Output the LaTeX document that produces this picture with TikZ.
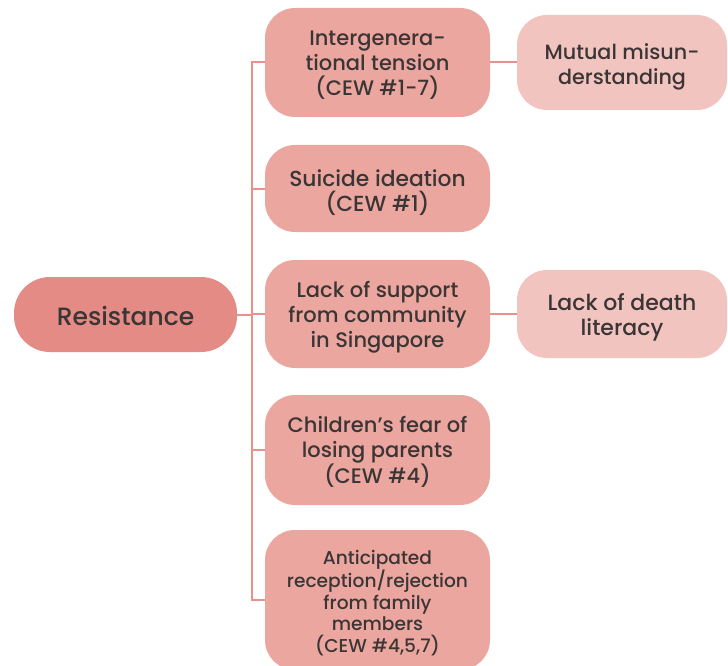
\documentclass[tikz,border=0pt]{standalone}
\usepackage{fontspec}
\setmainfont{Poppins Medium}
\definecolor{rootfill}{HTML}{E38B84}
\definecolor{midfill}{HTML}{EBA79F}
\definecolor{leaffill}{HTML}{F2C4BF}
\definecolor{linkcol}{HTML}{E8928B}
\definecolor{ink}{HTML}{3B3535}
\tikzset{
  pill/.style={rectangle, rounded corners=30pt, inner sep=0pt},
  rootbox/.style={pill, fill=rootfill, rounded corners=36pt, minimum width=223pt, minimum height=75pt},
  midbox/.style={pill, fill=midfill, minimum width=225pt},
  leafbox/.style={pill, fill=leaffill, minimum width=210pt},
  % labels sit a little below the geometric centre of their box
  txt/.style={align=center, inner sep=0pt, text=ink, font=\fontsize{21}{25}\selectfont},
  link/.style={draw=linkcol, line width=2pt},
}
\begin{document}
\begin{tikzpicture}[x=1pt,y=-1pt]
\useasboundingbox (0,0) rectangle (728,666);

% boxes
\node[rootbox] (root) at (125.5,314.5) {};
\node[midbox, minimum height=109pt] (c1) at (377.5,62.5) {};
\node[midbox, minimum height=87pt]  (c2) at (377.5,188.5) {};
\node[midbox, minimum height=108pt] (c3) at (377.5,314) {};
\node[midbox, minimum height=110pt] (c4) at (377.5,450) {};
\node[midbox, minimum height=140pt] (c5) at (377.5,600) {};
\node[leafbox, minimum height=95pt] (r1) at (622,62.5) {};
\node[leafbox, minimum height=88pt] (r2) at (622,314) {};

% box texts
\node[txt, font=\fontsize{25}{30}\selectfont] (roott) at ([yshift=-1pt]root.center) {Resistance};
\node[txt] (c1t) at ([yshift=-3pt]c1.center) {Intergenera-\\tional tension\\(CEW \#1-7)};
\node[txt, font=\fontsize{21.8}{25}\selectfont] (c2t) at ([yshift=-4pt]c2.center) {Suicide ideation\\(CEW \#1)};
\node[txt] (c3t) at ([yshift=-3pt]c3.center) {Lack of support\\from community\\in Singapore};
\node[txt] (c4t) at ([yshift=-2pt]c4.center) {Children’s fear of\\losing parents\\(CEW \#4)};
\node[txt, font=\fontsize{18.6}{21.5}\selectfont] (c5t) at ([yshift=-3pt]c5.center) {Anticipated\\reception/rejection\\from family\\members\\(CEW \#4,5,7)};
\node[txt, font=\fontsize{20.7}{25}\selectfont] (r1t) at ([yshift=-4pt]r1.center) {Mutual misun-\\derstanding};
\node[txt, font=\fontsize{22}{25}\selectfont] (r2t) at ([yshift=-3pt]r2.center) {Lack of death\\literacy};

% vertical spine joining the root to its branches
\coordinate (sp) at (252,314.5);
\draw[link] (root.east) -- (sp);
\foreach \c in {c1,c2,c3,c4,c5} \draw[link] (\c.west) -| (sp);
\draw[link] (c1.east) -- (r1.west);
\draw[link] (c3.east) -- (r2.west);
\end{tikzpicture}
\end{document}
